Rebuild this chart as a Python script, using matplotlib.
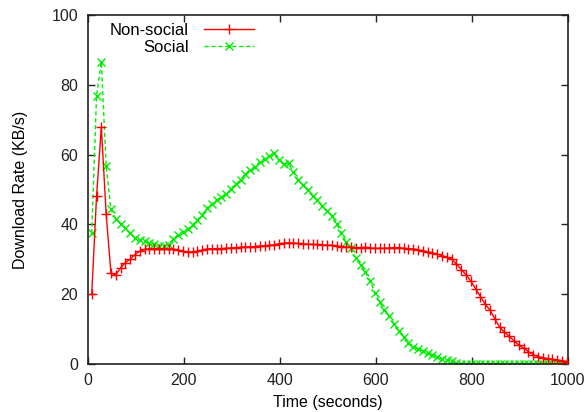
import matplotlib
matplotlib.use("Agg")
import matplotlib.pyplot as plt

plt.rcParams['font.family'] = ['Liberation Sans', 'DejaVu Sans']

time_s = [8, 18, 28, 38, 48, 58, 68, 78, 88, 98,
          108, 118, 128, 138, 148, 158, 168, 178, 188, 198,
          208, 218, 228, 238, 248, 258, 268, 278, 288, 298,
          308, 318, 328, 338, 348, 358, 368, 378, 388, 398,
          408, 418, 428, 438, 448, 458, 468, 478, 488, 498,
          508, 518, 528, 538, 548, 558, 568, 578, 588, 598,
          608, 618, 628, 638, 648, 658, 668, 678, 688, 698,
          708, 718, 728, 738, 748, 758, 768, 778, 788, 798,
          808, 818, 828, 838, 848, 858, 868, 878, 888, 898,
          908, 918, 928, 938, 948, 958, 968, 978, 988, 998]

non_social = [20, 48, 68, 43, 26, 25.5, 27.5, 29, 30, 31.3,
              32.3, 32.8, 33, 33, 33, 33, 32.9, 32.9, 32.6, 32.2,
              32.1, 32.1, 32.2, 32.6, 32.9, 33, 33, 33, 33.1, 33.2,
              33.3, 33.4, 33.5, 33.5, 33.6, 33.8, 33.8, 34, 34.1, 34.4,
              34.6, 34.7, 34.6, 34.5, 34.4, 34.3, 34.2, 34.2, 34.1, 34,
              34, 33.8, 33.6, 33.5, 33.4, 33.3, 33.3, 33.4, 33.2, 33.1,
              33.1, 33.1, 33.2, 33.3, 33.3, 33.1, 33, 32.9, 32.7, 32.4,
              32.1, 31.8, 31.4, 31, 30.5, 30, 28.6, 27, 25.5, 23.6,
              21.5, 19.2, 17, 15.3, 12.8, 10.4, 9, 7.8, 6.5, 5.3,
              4.4, 3.4, 2.5, 2, 1.7, 1.4, 1.2, 1.0, 0.8, 0.5]

social = [37.4, 77, 86.7, 56.8, 44.3, 41.5, 40.2, 38.8, 37.4, 36,
          35.5, 35.2, 34.6, 34.2, 33.9, 33.8, 34, 35.8, 37, 37.8,
          38.6, 39.8, 41.2, 42.8, 44.6, 45.8, 47, 47.8, 48.6, 50.2,
          51.6, 52.6, 54.5, 55.6, 56.5, 58, 58.8, 59.5, 60.4, 58.5,
          57.4, 57.5, 55, 52.8, 51.2, 49.8, 48.2, 47, 45.3, 43.8,
          42.5, 40.2, 37.4, 35, 33.1, 30.4, 28.4, 26.3, 23.8, 20.4,
          17.6, 15.5, 13.6, 11.3, 9.2, 7.7, 6, 4.8, 4.2, 3.6,
          2.9, 2.4, 1.9, 1.4, 1.0, 0.6, 0.2, 0, 0, 0,
          0, 0, 0, 0, 0, 0, 0, 0, 0, 0,
          0, 0, 0, 0, 0, 0, 0, 0, 0, 0]

x_ticks = [0, 200, 400, 600, 800, 1000]
y_ticks = [0, 20, 40, 60, 80, 100]

fig = plt.figure(figsize=(5.86, 4.12), dpi=100)
ax = fig.add_axes([0.150, 0.1177, 0.819, 0.8447])

ax.plot(time_s, non_social, color='#ff0000', lw=1.0, marker='+', ms=7,
        mew=1.0, label='Non-social', zorder=3)
ax.plot(time_s, social, color='#00ee00', lw=1.0, ls=(0, (3, 2)), marker='x',
        ms=6, mew=1.0, label='Social', zorder=2)

ax.set_xlim(0, 1000)
ax.set_ylim(0, 100)
ax.set_xticks(x_ticks)
ax.set_yticks(y_ticks)
ax.tick_params(direction='in', length=5, width=1, top=True, right=True,
               labelsize=11.5, colors='#222222', pad=7)
for s in ax.spines.values():
    s.set_linewidth(1.2)
    s.set_color('#222222')

ax.set_xlabel('Time (seconds)', fontsize=11.5, labelpad=5)
ax.set_ylabel('Download Rate (KB/s)', fontsize=11.5, labelpad=17)

ax.legend(loc='upper right', bbox_to_anchor=(0.37, 1.012), frameon=False,
          markerfirst=False, fontsize=12, handlelength=3.0, borderpad=0.2,
          labelspacing=0.1, handletextpad=0.9)

fig.savefig('out.png', dpi=100)
